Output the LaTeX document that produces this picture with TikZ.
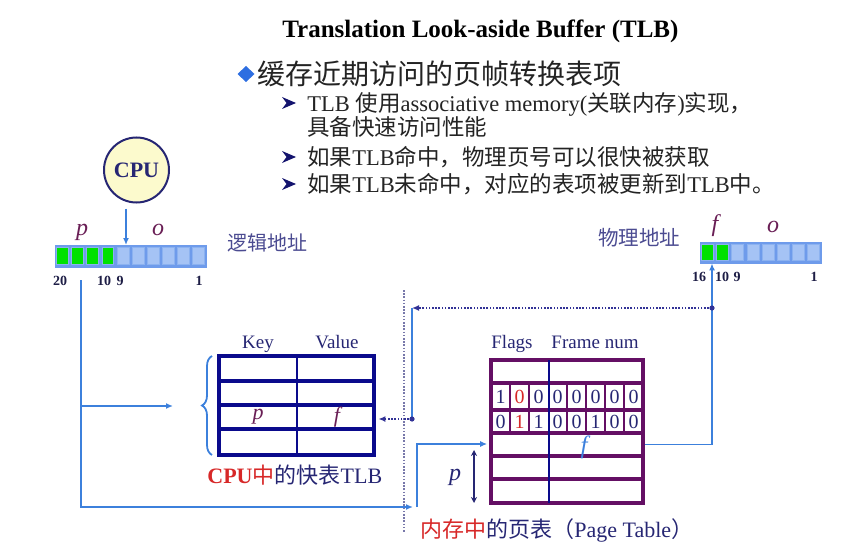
\documentclass[tikz,border=0pt]{standalone}
\usepackage{fontspec}
\setmainfont{Liberation Serif}
\newfontfamily\cjk{Noto Sans CJK SC}
\usetikzlibrary{arrows.meta,decorations.pathreplacing}
\newcommand\fsz[1]{\fontsize{#1}{#1}\selectfont}
\definecolor{cNavy}{RGB}{38,38,115}
\definecolor{cPurp}{RGB}{105,30,85}
\definecolor{cBlue}{RGB}{60,128,220}
\definecolor{cTLB}{RGB}{10,10,140}
\definecolor{cPT}{RGB}{100,15,100}
\definecolor{cRed}{RGB}{215,40,40}
\definecolor{cGreen}{RGB}{0,225,0}
\definecolor{cRegB}{RGB}{110,155,235}
\definecolor{cRegF}{RGB}{165,195,245}
\definecolor{cRegL}{RGB}{140,178,240}
\definecolor{cText}{RGB}{35,35,35}
\definecolor{cLabel}{RGB}{75,75,145}
\definecolor{cDot}{RGB}{50,50,150}
\definecolor{cVdot}{RGB}{120,120,170}
\definecolor{cCPUf}{RGB}{252,250,205}
\definecolor{cDia}{RGB}{45,110,225}
\definecolor{cNum}{RGB}{30,30,70}
\definecolor{cArr}{RGB}{20,20,110}
\begin{document}
\begin{tikzpicture}[x=0.5pt,y=-0.5pt,
  txt/.style={inner sep=0pt},
  bline/.style={draw=cBlue,line width=0.9pt},
  barrow/.style={bline,-{Latex[length=3.5pt,width=3pt]}},
  dline/.style={draw=cDot,line width=0.8pt,dash pattern=on 0.8pt off 0.8pt},
  darrow/.style={dline,-{Latex[length=3.5pt,width=3pt]}},
  ital/.style={txt,font=\fsz{12}\itshape,text=cPurp},
  num/.style={txt,font=\fsz{7}\bfseries,text=cNum},
  head/.style={txt,anchor=base,font=\fsz{9.5},text=cNavy},
  sub/.style={txt,anchor=base west,font=\fsz{11.25},text=cText},
  bit/.style={txt,font=\fsz{10},text=cNavy},
  regnode/.style={draw=cRegB,fill=cRegB,line width=0.4pt,inner sep=0pt}
]
\useasboundingbox (0,0) rectangle (851,551);

% ---------- header text ----------
\node[txt,anchor=base west,font=\fsz{12.5}\bfseries] (title) at (282,38) {Translation Look-aside Buffer (TLB)};
\fill[cDia] (246,66) -- (254.5,74) -- (246,82) -- (237.5,74) -- cycle;
\node[txt,anchor=base west,font=\cjk\fsz{14},text=cText] (b0) at (257,85) {缓存近期访问的页帧转换表项};
\foreach \yy in {103,157,184}{
  \fill[cArr] (282,\yy-6) -- (296,\yy) -- (282,\yy+6) -- (286.5,\yy) -- cycle;
}
\node[sub] (s1) at (307,111.5) {TLB {\cjk 使用}associative memory({\cjk 关联内存}){\cjk 实现，}};
\node[sub] (s2) at (307,135) {\cjk 具备快速访问性能};
\node[sub] (s3) at (307,165.5) {{\cjk 如果}TLB{\cjk 命中，物理页号可以很快被获取}};
\node[sub] (s4) at (307,192.5) {{\cjk 如果}TLB{\cjk 未命中，对应的表项被更新到}TLB{\cjk 中。}};

% ---------- CPU ----------
\node[circle,draw=cNavy,line width=1pt,fill=cCPUf,minimum size=32.5pt,inner sep=0pt,
      font=\fsz{11}\bfseries,text=cNavy] (cpu) at (136.5,170) {CPU};

% ---------- logical address register ----------
\node[regnode,minimum width=75.5pt,minimum height=11pt] (lreg) at (130.5,256) {};
\foreach \i in {0,...,9}{
  \pgfmathsetmacro\xa{55+15.1*\i+1.6}
  \pgfmathsetmacro\xb{55+15.1*(\i+1)-1.6}
  \ifnum\i<4 \def\cc{cGreen}\else\def\cc{cRegF}\fi
  \filldraw[fill=\cc,draw=cRegL,line width=0.4pt] (\xa,247.5) rectangle (\xb,264.5);
}
\node[ital] (lp) at (82,232) {p};
\node[ital] (lo) at (158,230) {o};
\node[txt,font=\cjk\fsz{10},text=cLabel] (laddr) at (267,243) {逻辑地址};
\node[num] (n20) at (60,281) {20};
\node[num] (n10) at (104,281) {10};
\node[num] (n9) at (120,281) {9};
\node[num] (n1) at (199,281) {1};

% ---------- physical address register ----------
\node[regnode,minimum width=60.5pt,minimum height=10.5pt] (preg) at (760.5,252.5) {};
\foreach \i in {0,...,7}{
  \pgfmathsetmacro\xa{700+15.125*\i+1.6}
  \pgfmathsetmacro\xb{700+15.125*(\i+1)-1.6}
  \ifnum\i<2 \def\cc{cGreen}\else\def\cc{cRegF}\fi
  \filldraw[fill=\cc,draw=cRegL,line width=0.4pt] (\xa,244.5) rectangle (\xb,260.5);
}
\node[ital] (pf) at (715,226) {f};
\node[ital] (po) at (773,227) {o};
\node[txt,font=\cjk\fsz{10.25},text=cLabel] (paddr) at (639,238) {物理地址};
\node[num] (m16) at (699,277) {16};
\node[num] (m10) at (722,277) {10};
\node[num] (m9) at (737,277) {9};
\node[num] (m1) at (814,277) {1};

% ---------- TLB ----------
\node[draw=cTLB,line width=2pt,minimum width=77.5pt,minimum height=49.5pt,inner sep=0pt] (tlb) at (296.5,405.5) {};
\foreach \yy in {381,405,429}{
  \draw[cTLB,line width=2pt] (219,\yy) -- (374,\yy);
}
\draw[cTLB,line width=0.6pt] (297,357) -- (297,454);
\node[head] (key) at (258,348.5) {Key};
\node[head] (val) at (337,348.5) {Value};
\node[ital,font=\fsz{11}\itshape] (tp) at (258,417) {p};
\node[ital,font=\fsz{11}\itshape] (tf) at (337,417) {f};
\draw[cBlue,line width=0.9pt,decorate,decoration={brace,amplitude=5pt}] (212,455) -- (212,356);
\node[txt,anchor=base west,font=\fsz{11}] (tlblab) at (207,483.5)
  {{\bfseries\color{cRed}CPU}{\cjk\color{cRed}中}{\color{cNavy}{\cjk 的快表}TLB}};

% ---------- page table ----------
\node[draw=cPT,line width=2.2pt,minimum width=76pt,minimum height=71.5pt,inner sep=0pt] (pt) at (567,431.5) {};
\foreach \yy in {383,410,433,456,479}{
  \draw[cPT,line width=2pt] (491,\yy) -- (643,\yy);
}
\foreach \xx in {510,529,567,586,605,624}{
  \draw[cPT,line width=0.8pt] (\xx,383) -- (\xx,433);
}
\draw[cTLB,line width=1pt] (548.5,360) -- (548.5,503);
\foreach \b [count=\k from 0] in {1,0,0,0,0,0,0,0}{
  \ifnum\k=1 \def\cc{cRed}\else\def\cc{cNavy}\fi
  \node[bit,text=\cc] (ra\k) at (500.5+19*\k,397) {\b};
}
\foreach \b [count=\k from 0] in {0,1,1,0,0,1,0,0}{
  \ifnum\k=1 \def\cc{cRed}\else\def\cc{cNavy}\fi
  \node[bit,text=\cc] (rb\k) at (500.5+19*\k,422) {\b};
}
\node[head] (flags) at (512,348) {Flags};
\node[head] (fnum) at (595,348) {Frame num};
\node[ital,text=cBlue,font=\fsz{12.5}\itshape] (ptf) at (584,447) {f};
\node[ital,text=cNavy] (ptp) at (455,477) {p};
\coordinate (pa0) at (474,450);
\coordinate (pa1) at (474,503);
\draw[cNavy,line width=0.8pt,{Stealth[length=3pt,width=3pt]}-{Stealth[length=3pt,width=3pt]}] (pa0) -- (pa1);
\node[txt,anchor=base west,font=\fsz{11}] (ptlab) at (420,537)
  {{\cjk\color{cRed}内存中}{\color{cNavy}{\cjk 的页表（}Page Table{\cjk ）}}};

% ---------- connectors ----------
\coordinate (lin) at (126,245);
\draw[barrow,shorten <=2.5pt] (lin |- cpu.south) -- (lin);

\coordinate (l0) at (81,280);
\coordinate (l1) at (81,507);
\coordinate (dl) at (413,507);
\draw[barrow] (l0) -- (l1) -- (dl);
\coordinate (br) at (173,406);
\draw[barrow] (l0 |- br) -- (br);
\coordinate (u0) at (417,507);
\coordinate (u1) at (417,444);
\draw[barrow,shorten >=0.8pt] (u0) -- (u1) -- (u1 -| pt.west);

\coordinate (v0) at (404,290);
\coordinate (v1) at (404,532);
\draw[cVdot,line width=0.6pt,dash pattern=on 0.8pt off 0.8pt] (v0) -- (v1);

\coordinate (r0) at (712,444.5);
\draw[barrow] (pt.east |- r0) -- (r0) -- (r0 |- preg.south);

\coordinate (t0) at (712,308);
\coordinate (t1) at (412,308);
\coordinate (t2) at (412,419);
\draw[darrow] (t0) -- (t1);
\fill[cDot] (t0) circle (1.3pt);
\draw[bline] (t1) -- (t2);
\draw[darrow,shorten >=1.2pt] (t2) -- (tlb.east |- t2);
\fill[cDot] (t2) circle (1.3pt);
\end{tikzpicture}
\end{document}
